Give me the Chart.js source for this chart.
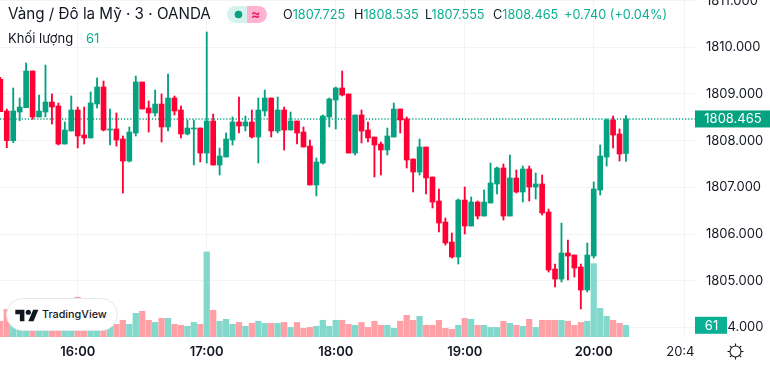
<!DOCTYPE html>
<html>
<head>
<meta charset="utf-8">
<script src="https://cdn.jsdelivr.net/npm/chart.js@4"></script>
<style>
  html, body { margin: 0; background: #fff; overflow: hidden; }
  #wrap { position: relative; width: 770px; height: 365px; font-family: Inter, sans-serif; color: #131722; }
  #wrap span, #wrap div.abs, #wrap svg { position: absolute; white-space: nowrap; }
  .up { color: #0BAE93; }
  .ohlc { top: 6px; font-size: 12.7px; line-height: 18px; }
  #pill { left: 227px; top: 6px; width: 40px; height: 17px; border-radius: 9px; overflow: hidden; }
  #pill i { position: absolute; top: 0; height: 17px; width: 20px; display: block; }
  #badge { left: 6px; top: 298px; width: 112px; height: 33px; border-radius: 17px; background: #fff; box-sizing: border-box; border: 1px solid #E4E6EC; }
</style>
</head>
<body>
<div id="wrap">
  <canvas id="chart" width="770" height="365"></canvas>

  <span style="left:8px;top:4px;font-size:15.2px;line-height:20px">Vàng / Đô la Mỹ · 3 · OANDA</span>
  <span style="left:8px;top:30px;font-size:13px;line-height:17px">Khối lượng</span>
  <span class="up" style="left:86px;top:30px;font-size:13px;line-height:17px">61</span>

  <div class="abs" id="pill">
    <i style="left:0;background:#D6F2EC"></i>
    <i style="left:20px;background:#FFB3D0"></i>
    <svg style="left:7px;top:4px" width="9" height="9"><circle cx="4.5" cy="4.5" r="3.8" fill="#04A280"/></svg>
    <span style="left:24px;top:-1px;font-size:14px;line-height:18px;color:#E8175D;font-weight:600">≈</span>
  </div>

  <span class="ohlc" style="left:283px">O<b class="up" style="font-weight:400">1807.725</b></span>
  <span class="ohlc" style="left:354px">H<b class="up" style="font-weight:400">1808.535</b></span>
  <span class="ohlc" style="left:425px">L<b class="up" style="font-weight:400">1807.555</b></span>
  <span class="ohlc" style="left:493px">C<b class="up" style="font-weight:400">1808.465</b></span>
  <span class="ohlc up" style="left:564px">+0.740 (+0.04%)</span>

  <div class="abs" id="badge"></div>
  <svg style="left:15px;top:309px" width="24" height="13" viewBox="0 3 36 20"><path fill="#131722" d="M14 22H7V11H0V4h14v18zM28 22h-8l7.5-18h8L28 22z"/><circle cx="20" cy="8" r="4" fill="#131722"/></svg>
  <span style="left:42px;top:307px;font-size:10.8px;line-height:16px;font-weight:500">TradingView</span>

  <svg style="left:727px;top:343px" width="17" height="17" viewBox="0 0 17 17" fill="none" stroke="#131722" stroke-width="1.1">
    <circle cx="8.5" cy="8.5" r="5.5"/>
    <path d="M8.5 0.5v2.5M8.5 14v2.5M0.5 8.5h2.5M14 8.5h2.5M2.8 2.8l1.8 1.8M12.4 12.4l1.8 1.8M14.2 2.8l-1.8 1.8M4.6 12.4l-1.8 1.8"/>
  </svg>
</div>

<script>
/* ── DATA ───────────────────────────────────── */
const opens = [
  1809.314,1808.635,1808.00,1808.614,1808.707,1809.493,1808.507,1808.614,1808.828,1808.743,
  1807.928,1808.207,1808.657,1808.121,1808.057,1808.785,1809.15,1808.228,1808.25,1808.035,
  1807.564,1808.164,1809.257,1808.70,1808.593,1808.785,1808.293,1808.914,1808.657,1808.143,
  1808.25,1808.271,1807.735,1808.421,1807.478,1807.65,1808.014,1808.40,1808.314,1808.40,
  1808.078,1808.635,1808.914,1808.207,1808.657,1808.228,1808.421,1808.185,1807.885,1807.05,
  1807.521,1808.507,1808.871,1809.128,1809.0,1807.735,1808.55,1808.228,1808.078,1807.928,
  1807.80,1808.078,1808.678,1808.464,1807.607,1807.328,1807.864,1807.221,1806.707,1806.257,
  1805.828,1805.507,1806.728,1806.171,1806.685,1806.385,1806.664,1807.071,1807.414,1806.385,
  1807.20,1806.90,1807.393,1807.007,1807.071,1806.471,1805.25,1805.035,1805.593,1805.55,
  1805.293,1804.80,1805.528,1806.943,1807.65,1808.443,1808.143,1807.725
];
const highs = [
  1809.357,1808.678,1809.128,1808.914,1809.664,1809.493,1808.978,1809.621,1809.0,1808.807,
  1808.4,1808.957,1808.721,1808.721,1809.043,1809.343,1809.278,1808.678,1808.593,1808.10,
  1808.293,1809.385,1809.257,1808.85,1809.085,1809.0,1809.428,1808.957,1808.743,1808.443,
  1808.443,1808.271,1810.328,1808.571,1807.843,1808.164,1808.507,1808.935,1808.528,1808.657,
  1808.914,1809.085,1808.914,1808.935,1808.721,1808.614,1808.421,1808.293,1808.014,1807.628,
  1808.55,1808.914,1809.15,1809.493,1809.0,1808.55,1808.657,1808.40,1808.078,1807.971,
  1808.271,1808.807,1808.678,1808.507,1807.607,1808.035,1807.864,1807.221,1806.964,1806.343,
  1806.021,1806.75,1807.007,1806.793,1806.707,1806.943,1807.521,1807.435,1807.50,1807.693,
  1807.371,1807.457,1807.457,1807.307,1807.264,1806.535,1805.357,1806.235,1805.871,1805.55,
  1805.357,1805.807,1807.114,1807.907,1808.464,1808.528,1808.25,1808.535
];
const lows = [
  1808.62,1807.85,1807.957,1808.428,1808.707,1808.457,1808.507,1808.507,1808.357,1807.907,
  1807.928,1808.207,1807.843,1807.928,1808.057,1808.70,1808.207,1807.907,1807.885,1806.878,
  1807.543,1808.10,1808.678,1808.185,1808.528,1807.971,1808.207,1808.55,1808.057,1808.121,
  1807.478,1807.543,1807.521,1807.478,1807.264,1807.65,1807.907,1808.164,1808.207,1808.057,
  1807.521,1808.528,1808.078,1808.164,1807.80,1808.228,1807.928,1807.864,1807.05,1806.814,
  1807.50,1808.293,1808.25,1808.957,1807.735,1807.693,1807.95,1807.971,1807.221,1807.264,
  1807.693,1808.078,1808.164,1807.414,1806.90,1807.264,1806.857,1806.557,1806.043,1805.764,
  1805.485,1805.357,1806.0,1806.171,1806.321,1806.385,1806.664,1806.857,1806.30,1806.385,
  1806.878,1806.685,1806.707,1806.75,1806.407,1805.185,1804.864,1804.971,1805.014,1805.078,
  1804.393,1804.757,1805.485,1806.835,1807.457,1807.843,1807.564,1807.555
];
const closes = [
  1808.621,1808.00,1808.635,1808.721,1809.493,1808.507,1808.635,1808.828,1808.721,1807.928,
  1808.228,1808.657,1808.10,1808.057,1808.807,1809.15,1808.228,1808.25,1808.014,1807.564,
  1808.185,1809.257,1808.678,1808.593,1808.785,1808.293,1808.914,1808.635,1808.143,1808.271,
  1808.271,1807.735,1808.421,1807.478,1807.671,1808.035,1808.40,1808.314,1808.40,1808.078,
  1808.657,1808.914,1808.207,1808.657,1808.228,1808.421,1808.164,1807.864,1807.05,1807.543,
  1808.528,1808.893,1809.128,1808.978,1807.735,1808.55,1808.207,1808.057,1807.907,1807.80,
  1808.10,1808.678,1808.443,1807.585,1807.328,1807.864,1807.20,1806.685,1806.235,1805.807,
  1805.507,1806.728,1806.171,1806.685,1806.385,1806.685,1807.093,1807.414,1806.385,1807.20,
  1806.90,1807.393,1807.007,1807.071,1806.45,1805.228,1805.035,1805.593,1805.528,1805.271,
  1804.80,1805.55,1806.964,1807.671,1808.443,1808.121,1807.714,1808.465
];
const volumes = [
  82,144,80,72,85,90,78,70,82,75,
  72,85,207,80,72,78,70,60,66,87,
  66,123,134,87,76,97,97,66,61,56,
  76,66,443,139,82,92,66,76,56,71,
  82,71,71,71,76,50,76,45,50,56,
  87,56,87,87,66,61,76,50,82,61,
  61,45,82,113,87,108,61,61,87,45,
  40,61,97,92,61,61,50,50,82,71,
  61,56,92,50,87,87,87,87,82,61,
  76,82,382,149,108,87,71,61
];
const priceTicks = [1804, 1805, 1806, 1807, 1808, 1809, 1810, 1811];
const timeTicks  = { 12: '16:00', 32: '17:00', 52: '18:00', 72: '19:00', 92: '20:00', 106: '20:4  ' };

/* ── COLOURS ────────────────────────────────── */
const green = '#04A280', red = '#FF0035';
const volGreen = '#82D8CB', volRed = '#FFA0A6';
const gridColor = '#F2F3F5', textColor = '#131722';
const isUp = closes.map((c, i) => c >= opens[i]);
const candleColors = isUp.map(u => u ? green : red);
const volColors = isUp.map(u => u ? volGreen : volRed);

const xMin = -0.05, xMax = 107.7;
const lastClose = closes[closes.length - 1];
const lastVol = volumes[volumes.length - 1];

/* ── PRICE AND VOLUME TAGS ──────────────────── */
const tags = {
  id: 'tags',
  afterDraw(chart) {
    const { ctx, scales: { y, yVol }, chartArea } = chart;
    const tag = (text, py, w, h, bg) => {
      ctx.save();
      ctx.fillStyle = bg;
      ctx.fillRect(chartArea.right, py - h / 2, w, h);
      ctx.fillStyle = '#fff';
      ctx.font = "13px Inter, sans-serif";
      ctx.textBaseline = 'middle';
      ctx.textAlign = 'center';
      ctx.fillText(text, chartArea.right + w / 2 + 0.5, py + 0.5);
      ctx.restore();
    };
    tag(lastClose.toFixed(3), y.getPixelForValue(lastClose), 75, 17, green);
    tag(String(lastVol), yVol.getPixelForValue(lastVol), 32, 17, '#0AAF94');
  }
};

/* ── CHART ──────────────────────────────────── */
new Chart(document.getElementById('chart'), {
  type: 'bar',
  plugins: [tags],
  data: {
    datasets: [
      {
        label: 'candles', yAxisID: 'y', order: 1, grouped: false,
        data: opens.map((o, i) => ({ x: i, y: [o, closes[i]] })),
        backgroundColor: candleColors, barThickness: 5,
      },
      {
        label: 'wicks', yAxisID: 'y', order: 2, grouped: false,
        data: lows.map((l, i) => ({ x: i, y: [l, highs[i]] })),
        backgroundColor: candleColors, barThickness: 1.2,
      },
      {
        type: 'line', label: 'last', yAxisID: 'y', order: 3,
        data: [{ x: xMin, y: lastClose }, { x: xMax, y: lastClose }],
        borderColor: green, borderWidth: 1.4, borderDash: [1.2, 1.9],
        pointRadius: 0,
      },
      {
        label: 'volume', yAxisID: 'yVol', order: 4, grouped: false,
        data: volumes.map((v, i) => ({ x: i, y: v })),
        backgroundColor: volColors, barThickness: 5.6,
      },
    ]
  },
  options: {
    responsive: false, animation: false,
    layout: { padding: 0 },
    plugins: { legend: { display: false }, tooltip: { enabled: false } },
    scales: {
      x: {
        type: 'linear', min: xMin, max: xMax, offset: false,
        grid: { color: gridColor, drawTicks: false, offset: false },
        border: { display: false },
        afterBuildTicks: s => { s.ticks = Object.keys(timeTicks).map(k => ({ value: +k })); },
        afterFit: s => { s.height = 28; s.paddingLeft = 0; s.paddingRight = 0; },
        ticks: {
          autoSkip: false, maxRotation: 0, padding: 7, color: textColor,
          font: c => ({ family: 'Inter, sans-serif', size: 13, weight: c.index < 5 ? 600 : 400 }),
          callback: v => timeTicks[v],
        },
      },
      y: {
        position: 'right', min: 1803.793, max: 1811.014,
        grid: { color: gridColor, drawTicks: false },
        border: { display: false },
        afterBuildTicks: s => { s.ticks = priceTicks.map(v => ({ value: v })); },
        afterFit: s => { s.width = 75; s.paddingTop = 0; s.paddingBottom = 0; },
        ticks: {
          padding: 11, color: textColor, autoSkip: false,
          font: { family: 'Inter, sans-serif', size: 13 },
          callback: v => v.toFixed(3),
        },
      },
      yVol: { display: false, min: 0, max: 1755 },
    }
  }
});
</script>
</body>
</html>
